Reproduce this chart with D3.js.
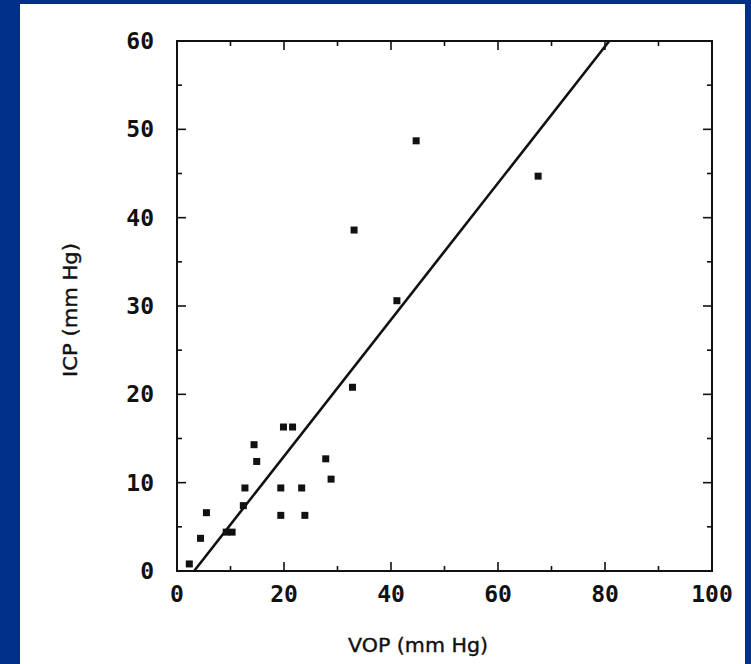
<!DOCTYPE html>
<html>
<head>
<meta charset="utf-8">
<script src="https://cdn.jsdelivr.net/npm/d3@7"></script>
<style>
  html, body { margin: 0; padding: 0; background: #003087; }
  svg { display: block; }
</style>
</head>
<body>
<svg id="chart" width="751" height="664"></svg>
<script>
// VOP (x) vs ICP (y), mm Hg
const vop = [2.3, 4.4, 5.5, 9.2, 10.3, 12.4, 12.7, 14.4, 14.9, 19.4, 19.4, 19.9, 21.6, 23.3, 23.9, 27.8, 28.8, 32.8, 33.1, 41.1, 44.7, 67.5];
const icp = [0.8, 3.7, 6.6, 4.4, 4.4, 7.4, 9.4, 14.3, 12.4, 9.4, 6.3, 16.3, 16.3, 9.4, 6.3, 12.7, 10.4, 20.8, 38.6, 30.6, 48.7, 44.7];
const fitLine = [[3.2, 0], [80.8, 60]];
const xTicks = [0, 20, 40, 60, 80, 100];
const yTicks = [0, 10, 20, 30, 40, 50, 60];

const svg = d3.select('#chart');

// white panel
svg.append('rect')
  .attr('x', 20).attr('y', 4)
  .attr('width', 725).attr('height', 660)
  .attr('fill', '#fff');

const mLeft = 177, mRight = 712, mTop = 41, mBottom = 571;

const x = d3.scaleLinear().domain([0, 100]).range([mLeft, mRight]);
const y = d3.scaleLinear().domain([0, 60]).range([mBottom, mTop]);

const ink = '#111';
const monoFont = '"DejaVu Sans Mono", monospace';

// frame
svg.append('rect')
  .attr('x', mLeft).attr('y', mTop)
  .attr('width', mRight - mLeft).attr('height', mBottom - mTop)
  .attr('fill', 'none').attr('stroke', ink).attr('stroke-width', 2);

// ticks, all pointing inward
const xMinor = d3.range(10, 100, 20);
const yMinor = d3.range(5, 60, 10);
const g = svg.append('g').attr('stroke', ink).attr('stroke-width', 1.6);

function xTickMarks(vals, len) {
  g.selectAll(null).data(vals).join('line')
    .attr('x1', d => x(d)).attr('x2', d => x(d))
    .attr('y1', mBottom).attr('y2', mBottom - len);
  g.selectAll(null).data(vals).join('line')
    .attr('x1', d => x(d)).attr('x2', d => x(d))
    .attr('y1', mTop).attr('y2', mTop + len);
}
function yTickMarks(vals, len) {
  g.selectAll(null).data(vals).join('line')
    .attr('y1', d => y(d)).attr('y2', d => y(d))
    .attr('x1', mLeft).attr('x2', mLeft + len);
  g.selectAll(null).data(vals).join('line')
    .attr('y1', d => y(d)).attr('y2', d => y(d))
    .attr('x1', mRight).attr('x2', mRight - len);
}
xTickMarks(xTicks.slice(1, -1), 9);
xTickMarks(xMinor, 5);
yTickMarks(yTicks.slice(1, -1), 9);
yTickMarks(yMinor, 5);

// tick labels
svg.append('g').selectAll('text').data(xTicks).join('text')
  .attr('x', d => x(d)).attr('y', 602)
  .attr('text-anchor', 'middle')
  .attr('font-family', monoFont).attr('font-weight', 'bold')
  .attr('font-size', 23).attr('fill', ink)
  .text(d => d);

svg.append('g').selectAll('text').data(yTicks).join('text')
  .attr('x', 154).attr('y', d => y(d))
  .attr('text-anchor', 'end').attr('dominant-baseline', 'central')
  .attr('font-family', monoFont).attr('font-weight', 'bold')
  .attr('font-size', 23).attr('fill', ink)
  .text(d => d);

// axis titles
svg.append('text')
  .attr('x', 418).attr('y', 652)
  .attr('text-anchor', 'middle')
  .attr('font-family', '"DejaVu Sans", sans-serif')
  .attr('font-size', 20).attr('fill', ink)
  .attr('stroke', ink).attr('stroke-width', 0.4)
  .attr('textLength', 140).attr('lengthAdjust', 'spacingAndGlyphs')
  .text('VOP (mm Hg)');

svg.append('text')
  .attr('transform', 'translate(77,310) rotate(-90)')
  .attr('text-anchor', 'middle')
  .attr('font-family', '"DejaVu Sans", sans-serif')
  .attr('font-size', 20).attr('fill', ink)
  .attr('stroke', ink).attr('stroke-width', 0.4)
  .attr('textLength', 134).attr('lengthAdjust', 'spacingAndGlyphs')
  .text('ICP (mm Hg)');

// regression line
svg.append('path')
  .datum(fitLine)
  .attr('d', d3.line().x(d => x(d[0])).y(d => y(d[1])))
  .attr('fill', 'none').attr('stroke', ink).attr('stroke-width', 2.6);

// data points
const pts = vop.map((v, i) => [v, icp[i]]);
svg.append('g').selectAll('rect').data(pts).join('rect')
  .attr('x', d => x(d[0]) - 3.5).attr('y', d => y(d[1]) - 3.5)
  .attr('width', 7).attr('height', 7)
  .attr('fill', ink);
</script>
</body>
</html>
